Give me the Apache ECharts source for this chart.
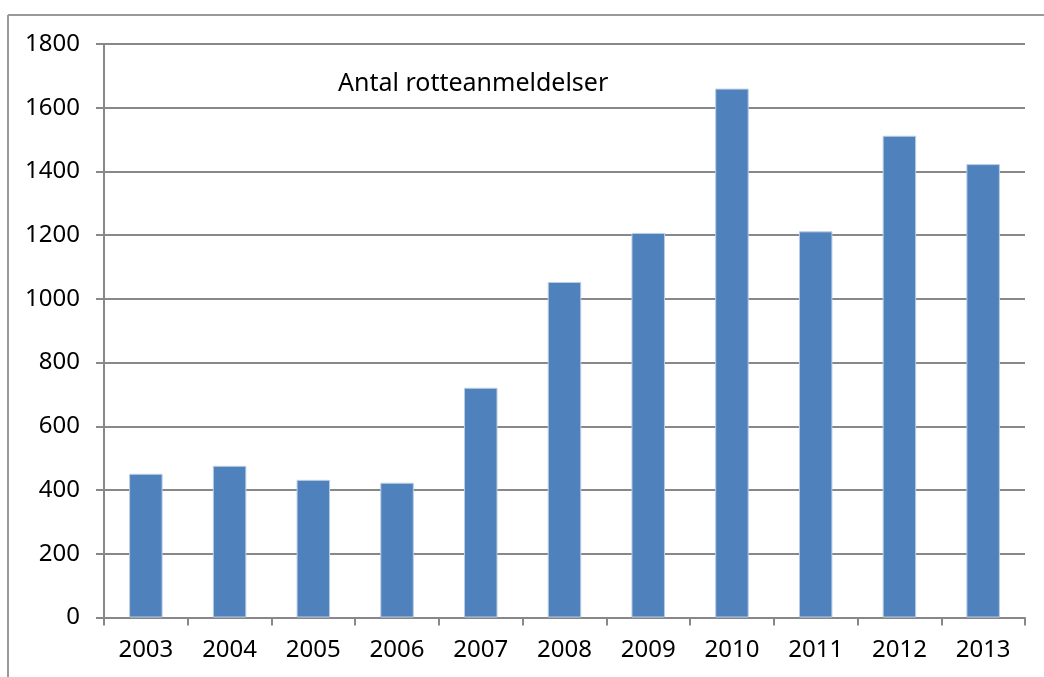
<!DOCTYPE html>
<html>
<head>
<meta charset="utf-8">
<script src="https://cdn.jsdelivr.net/npm/echarts@6/dist/echarts.min.js"></script>
<style>
  html, body { margin: 0; padding: 0; background: #fff; }
  #chart { width: 1044px; height: 677px; }
</style>
</head>
<body>
<div id="chart"></div>
<script>
// Antal rotteanmeldelser pr. aar
var years = ["2003", "2004", "2005", "2006", "2007", "2008", "2009", "2010", "2011", "2012", "2013"];
var counts = [451, 476, 432, 423, 721, 1053, 1207, 1660, 1212, 1512, 1423];
var yTicks = [0, 200, 400, 600, 800, 1000, 1200, 1400, 1600, 1800];

var gray = "#888888";
var font = "Noto Sans";

var myChart = echarts.init(document.getElementById("chart"));
var option = {
  backgroundColor: "#fff",
  animation: false,
  textStyle: { fontFamily: font },
  grid: { left: 104, right: 19, top: 44, bottom: 59.5 },
  title: {
    text: "Antal rotteanmeldelser",
    left: 333,
    top: 66,
    textStyle: { fontFamily: font, fontSize: 25, fontWeight: "normal", color: "#000" }
  },
  graphic: [
    // yderramme (top og venstre)
    { type: "line", shape: { x1: 8, y1: 15, x2: 1044, y2: 15 }, style: { stroke: "#999", lineWidth: 2 } },
    { type: "line", shape: { x1: 8, y1: 15, x2: 8, y2: 677 }, style: { stroke: "#999", lineWidth: 2 } }
  ],
  xAxis: {
    type: "category",
    data: years,
    axisLine: { lineStyle: { color: gray, width: 2 } },
    axisTick: { show: true, length: 8, alignWithLabel: false, lineStyle: { color: gray, width: 2 } },
    axisLabel: { color: "#000", fontSize: 24, fontFamily: font, margin: 21 }
  },
  yAxis: {
    type: "value",
    min: yTicks[0],
    max: yTicks[yTicks.length - 1],
    interval: 200,
    axisLine: { show: true, lineStyle: { color: gray, width: 2 } },
    axisTick: { show: true, length: 8, lineStyle: { color: gray, width: 2 } },
    splitLine: { show: true, lineStyle: { color: gray, width: 2 } },
    axisLabel: {
      color: "#000", fontSize: 24, fontFamily: font, margin: 24,
      formatter: function (v) { return String(v); }
    }
  },
  series: [
    {
      name: "Antal rotteanmeldelser",
      type: "bar",
      data: counts,
      barWidth: "40%",
      itemStyle: { color: "#4F81BD", borderColor: "#B9CDE5", borderWidth: 1 }
    }
  ]
};
myChart.setOption(option);
</script>
</body>
</html>
